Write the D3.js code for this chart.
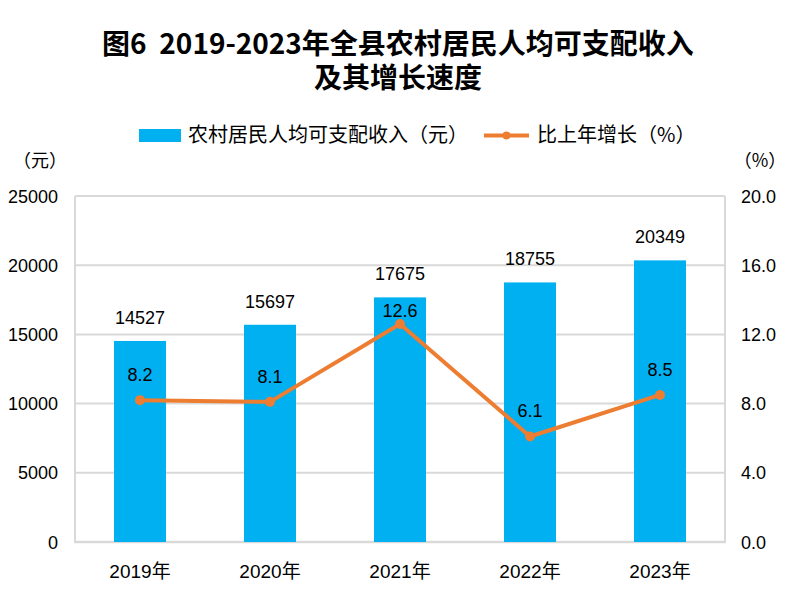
<!DOCTYPE html>
<html>
<head>
<meta charset="utf-8">
<script src="https://cdn.jsdelivr.net/npm/d3@7"></script>
<style>
  body { margin: 0; background: #fff; }
  text { font-family: "Liberation Sans", "Noto Sans CJK SC", sans-serif; fill: #000; }
  .cjk { font-family: "Noto Sans CJK SC", sans-serif; }
  .title { white-space: pre; }
</style>
</head>
<body>
<svg id="chart" width="796" height="604"></svg>
<script>
const years = ["2019年", "2020年", "2021年", "2022年", "2023年"];
const income = [14527, 15697, 17675, 18755, 20349];
const growth = [8.2, 8.1, 12.6, 6.1, 8.5];
const leftTicks = [0, 5000, 10000, 15000, 20000, 25000];
const rightTicks = [0, 4, 8, 12, 16, 20];

const svg = d3.select("#chart");
const W = 796, H = 604;
const m = { left: 75, right: 71, top: 196, bottom: 62 };
const x0 = m.left, x1 = W - m.right, yTop = m.top, yBot = H - m.bottom;

const x = d3.scaleBand().domain(years).range([x0, x1]).paddingInner(0.6).paddingOuter(0.3);
const yL = d3.scaleLinear().domain([0, 25000]).range([yBot, yTop]);
const yR = d3.scaleLinear().domain([0, 20]).range([yBot, yTop]);
const cx = d => x(d) + x.bandwidth() / 2;

const grid = "#d9d9d9";

// title
svg.append("text").attr("x", W / 2).attr("y", 54).attr("text-anchor", "middle")
  .attr("font-size", 28).attr("font-weight", "bold").attr("class", "cjk title")
  .text("图6  2019-2023年全县农村居民人均可支配收入");
svg.append("text").attr("x", W / 2).attr("y", 88).attr("text-anchor", "middle")
  .attr("font-size", 28).attr("font-weight", "bold").attr("class", "cjk title")
  .text("及其增长速度");

// legend
const lg = svg.append("g");
lg.append("rect").attr("x", 139).attr("y", 129).attr("width", 42).attr("height", 13).attr("fill", "#00b0f0");
lg.append("text").attr("x", 188).attr("y", 142).attr("font-size", 20).attr("class", "cjk")
  .text("农村居民人均可支配收入（元）");
lg.append("line").attr("x1", 484).attr("x2", 529).attr("y1", 135.5).attr("y2", 135.5)
  .attr("stroke", "#ed7d31").attr("stroke-width", 4);
lg.append("circle").attr("cx", 506.5).attr("cy", 135.5).attr("r", 4).attr("fill", "#ed7d31");
lg.append("text").attr("x", 537).attr("y", 142).attr("font-size", 20).attr("class", "cjk")
  .text("比上年增长（%）");

// unit labels
svg.append("text").attr("x", 40).attr("y", 167).attr("text-anchor", "middle")
  .attr("font-size", 18).attr("class", "cjk").text("（元）");
svg.append("text").attr("x", 760).attr("y", 167).attr("text-anchor", "middle")
  .attr("font-size", 18).attr("class", "cjk").text("（%）");

// gridlines and frame
svg.append("g").selectAll("line").data(leftTicks).enter().append("line")
  .attr("x1", x0).attr("x2", x1)
  .attr("y1", d => yL(d)).attr("y2", d => yL(d))
  .attr("stroke", grid).attr("stroke-width", 2);
svg.append("line").attr("x1", x0).attr("x2", x0).attr("y1", yTop).attr("y2", yBot)
  .attr("stroke", grid).attr("stroke-width", 2);
svg.append("line").attr("x1", x1).attr("x2", x1).attr("y1", yTop).attr("y2", yBot)
  .attr("stroke", grid).attr("stroke-width", 2);

// axes
const axL = svg.append("g").attr("transform", `translate(${x0 - 14},0)`)
  .call(d3.axisLeft(yL).tickValues(leftTicks).tickSize(0).tickFormat(d3.format("d")));
const axR = svg.append("g").attr("transform", `translate(${x1 + 13},0)`)
  .call(d3.axisRight(yR).tickValues(rightTicks).tickSize(0).tickFormat(d3.format(".1f")));
const axB = svg.append("g").attr("transform", `translate(0,${yBot})`)
  .call(d3.axisBottom(x).tickSize(0).tickPadding(23));
[axL, axR, axB].forEach(a => {
  a.select(".domain").remove();
  a.selectAll("text").attr("font-size", 18).attr("font-family", null).attr("fill", "#000");
});
axL.selectAll("text").attr("dy", "0.34em");
axR.selectAll("text").attr("dy", "0.34em");
axB.selectAll("text").attr("font-size", 19);
svg.append("line").attr("x1", x0 - 1).attr("x2", x1 + 1).attr("y1", yBot).attr("y2", yBot)
  .attr("stroke", grid).attr("stroke-width", 2.5);

// bars
svg.append("g").selectAll("rect").data(income).enter().append("rect")
  .attr("x", (d, i) => x(years[i]))
  .attr("width", x.bandwidth())
  .attr("y", d => yL(d))
  .attr("height", d => yBot - yL(d))
  .attr("fill", "#00b0f0");
svg.append("g").selectAll("text").data(income).enter().append("text")
  .attr("x", (d, i) => cx(years[i]))
  .attr("y", d => yL(d) - 17)
  .attr("text-anchor", "middle").attr("font-size", 18)
  .text(d => d);

// growth line
const line = d3.line().x((d, i) => cx(years[i])).y(d => yR(d));
svg.append("path").datum(growth).attr("d", line)
  .attr("fill", "none").attr("stroke", "#ed7d31").attr("stroke-width", 4)
  .attr("stroke-linejoin", "round");
svg.append("g").selectAll("circle").data(growth).enter().append("circle")
  .attr("cx", (d, i) => cx(years[i])).attr("cy", d => yR(d)).attr("r", 5)
  .attr("fill", "#ed7d31");
svg.append("g").selectAll("text").data(growth).enter().append("text")
  .attr("x", (d, i) => cx(years[i]))
  .attr("y", (d, i) => yR(d) - (d === d3.max(growth) ? 7 : 19))
  .attr("text-anchor", "middle").attr("font-size", 18)
  .text(d => d3.format(".1f")(d));
</script>
</body>
</html>
